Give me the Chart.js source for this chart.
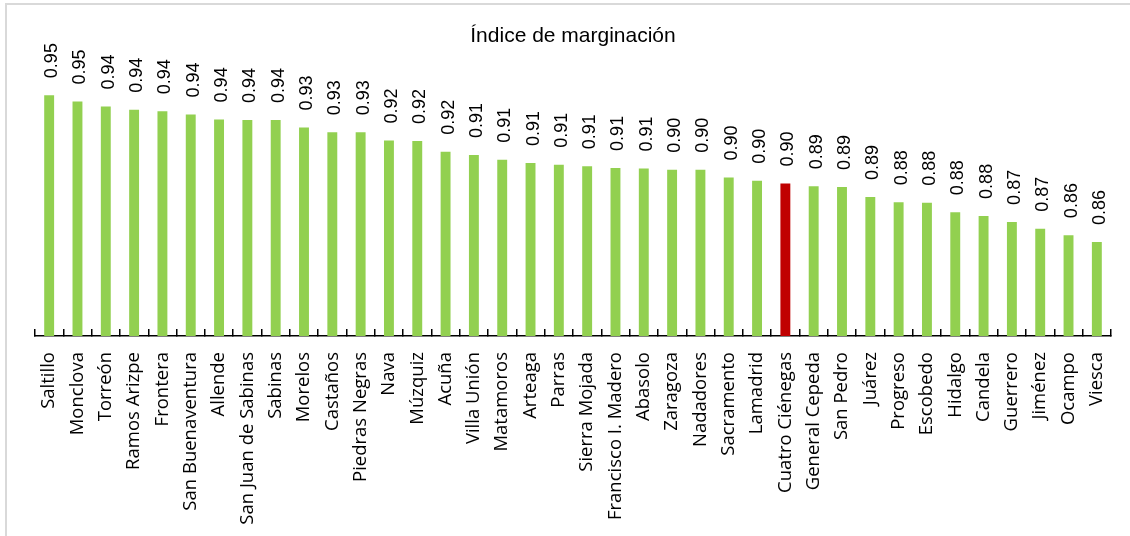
<!DOCTYPE html>
<html>
<head>
<meta charset="utf-8">
<script src="https://cdn.jsdelivr.net/npm/chart.js@4.4.1/dist/chart.umd.min.js"></script>
<style>
    html, body { margin: 0; padding: 0; background: #fff; }
    #frame {
        position: absolute; left: 5px; top: 3px; width: 1140px; height: 560px;
        border: 2px solid #d9d9d9; box-sizing: border-box;
    }
    #chart { position: absolute; left: 0; top: 0; }
</style>
</head>
<body>
<div id="frame"></div>
<canvas id="chart" width="1130" height="536"></canvas>
<script>
const municipios = [
    'Saltillo', 'Monclova', 'Torreón', 'Ramos Arizpe', 'Frontera', 'San Buenaventura',
    'Allende', 'San Juan de Sabinas', 'Sabinas', 'Morelos', 'Castaños', 'Piedras Negras',
    'Nava', 'Múzquiz', 'Acuña', 'Villa Unión', 'Matamoros', 'Arteaga', 'Parras',
    'Sierra Mojada', 'Francisco I. Madero', 'Abasolo', 'Zaragoza', 'Nadadores',
    'Sacramento', 'Lamadrid', 'Cuatro Ciénegas', 'General Cepeda', 'San Pedro',
    'Juárez', 'Progreso', 'Escobedo', 'Hidalgo', 'Candela', 'Guerrero', 'Jiménez',
    'Ocampo', 'Viesca'
];

const indice = [
    0.951, 0.947, 0.944, 0.942, 0.941, 0.939,
    0.936, 0.9356, 0.9356, 0.931, 0.928, 0.928,
    0.923, 0.9226, 0.916, 0.914, 0.911, 0.909, 0.908,
    0.907, 0.906, 0.9056, 0.9048, 0.9048,
    0.900, 0.898, 0.8963, 0.8947, 0.8941,
    0.888, 0.8848, 0.8844, 0.8786, 0.8763, 0.8726, 0.8683,
    0.8644, 0.8602
];

const destacado = 'Cuatro Ciénegas';
const colorBase = '#92d050';
const colorDestacado = '#c00000';

// etiquetas de valor giradas encima de cada barra
const valueLabels = {
    id: 'valueLabels',
    afterDatasetsDraw(chart) {
        const ctx = chart.ctx;
        const meta = chart.getDatasetMeta(0);
        ctx.save();
        ctx.font = '18px "Liberation Sans", Arial, sans-serif';
        ctx.fillStyle = '#000';
        ctx.textAlign = 'left';
        ctx.textBaseline = 'alphabetic';
        meta.data.forEach((bar, i) => {
            ctx.save();
            ctx.translate(bar.x + 8, bar.y - 17);
            ctx.rotate(-Math.PI / 2);
            ctx.fillText(indice[i].toFixed(2), 0, 0);
            ctx.restore();
        });
        ctx.restore();
    }
};

new Chart(document.getElementById('chart'), {
    type: 'bar',
    data: {
        labels: municipios,
        datasets: [{
            label: 'Índice de marginación',
            data: indice,
            backgroundColor: municipios.map(m => m === destacado ? colorDestacado : colorBase),
            categoryPercentage: 1,
            barPercentage: 0.35
        }]
    },
    options: {
        responsive: false,
        animation: false,
        layout: { padding: { left: 35, right: 19, top: 0, bottom: 0 } },
        plugins: {
            legend: { display: false },
            tooltip: { enabled: false },
            title: {
                display: true,
                text: 'Índice de marginación',
                color: '#000',
                font: { family: '"Liberation Sans", Arial, sans-serif', size: 21, weight: 'normal' },
                padding: { top: 24, bottom: 12 }
            }
        },
        scales: {
            x: {
                grid: {
                    drawOnChartArea: false,
                    color: '#000',
                    lineWidth: 1.5,
                    tickLength: -7,
                    offset: true
                },
                border: { display: true, color: '#000', width: 1.5 },
                ticks: {
                    autoSkip: false,
                    maxRotation: 90,
                    minRotation: 90,
                    padding: 23,
                    color: '#000',
                    font: { family: '"Open Sans", sans-serif', size: 18.5 }
                },
                afterFit: (scale) => {
                    scale.height = 200;
                    scale.paddingLeft = 0;
                    scale.paddingRight = 0;
                }
            },
            y: {
                display: false,
                min: 0.802,
                max: 0.972
            }
        }
    },
    plugins: [valueLabels]
});
</script>
</body>
</html>
